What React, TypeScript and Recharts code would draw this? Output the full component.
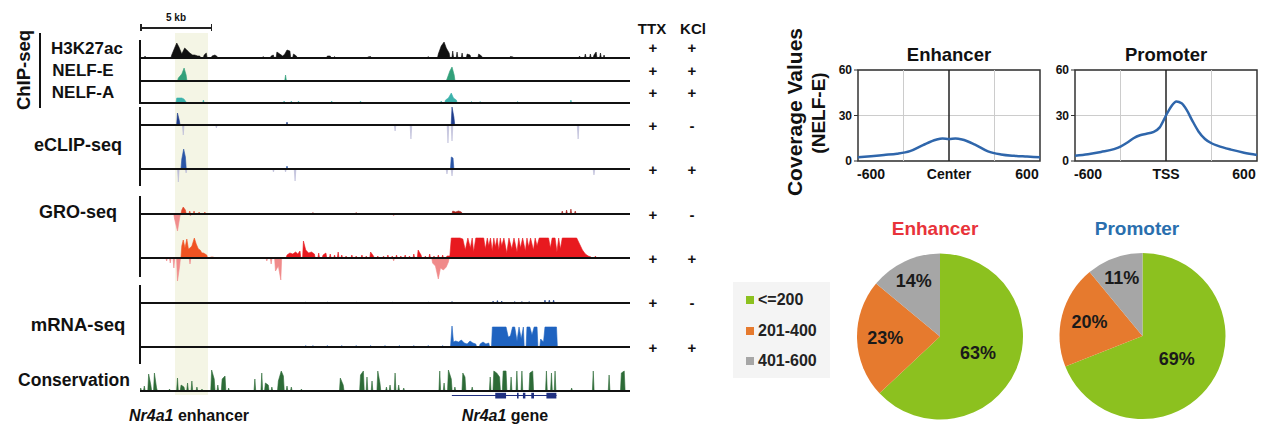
import React from "react";
import {
  AreaChart,
  Area,
  LineChart,
  Line,
  XAxis,
  YAxis,
  CartesianGrid,
  ReferenceLine,
  ReferenceArea,
  PieChart,
  Pie,
  Cell,
} from "recharts";

const FONT = '"Liberation Sans", Arial, sans-serif';

// ---- genome browser (x in kb from left edge of view) ----
const GENOME_KB: [number, number] = [0, 34];
const ENHANCER_KB: [number, number] = [2.43, 4.72];
const SCALE_BAR_KB = 5;

type Pt = [number, number];

const H3K27AC: Pt[] = [
  [0.35, 2], [2.2, 3], [2.4, 10], [2.55, 15], [2.7, 11], [2.9, 4], [3.1, 10], [3.25, 8],
  [3.45, 5], [3.65, 3], [3.8, 3], [4.0, 2], [4.15, 2], [4.45, 3], [4.6, 5], [5.0, 2],
  [5.2, 3], [5.35, 1.5], [6.6, 1], [7.75, 1], [8.55, 1.5], [9.1, 2], [9.25, 3], [9.5, 6],
  [9.7, 4], [9.9, 2], [10.05, 4], [10.2, 8], [10.4, 7], [10.65, 4], [10.85, 2], [13.0, 2],
  [13.2, 2], [13.5, 1.5], [15.8, 1], [16.0, 1.5], [20.0, 1.5], [20.7, 4], [20.9, 12],
  [21.1, 16], [21.25, 10], [21.45, 5], [21.7, 7], [22.0, 6], [22.35, 5], [22.7, 4],
  [22.9, 3], [23.5, 4], [23.7, 2], [25.7, 1.5], [25.9, 1], [27.8, 1], [30.5, 2], [30.9, 4],
  [31.25, 4], [31.5, 3], [31.65, 6], [31.95, 5], [32.2, 3], [33.3, 1],
];
const NELF_E: Pt[] = [
  [2.66, 3], [2.9, 7], [3.06, 13], [3.2, 6], [10.1, 6], [21.3, 2], [21.5, 10], [21.65, 14], [21.8, 6],
];
const NELF_A: Pt[] = [
  [0.35, 1], [1.5, 1], [2.55, 5], [2.7, 5], [2.9, 5], [3.05, 4], [3.2, 1], [4.4, 3], [5.2, 1],
  [6.2, 1], [7.2, 1], [8.8, 1], [10.0, 2], [10.5, 2], [11.0, 2], [11.5, 1], [13.3, 2],
  [15.3, 2], [17.0, 1], [18.4, 1], [19.5, 1], [20.9, 2], [21.2, 3], [21.4, 5], [21.6, 10],
  [21.75, 5], [21.95, 3], [22.3, 1], [23.0, 1.5], [23.6, 1.5], [24.5, 1], [25.3, 1],
  [26.2, 1.5], [27.3, 1], [28.0, 1], [29.9, 3], [31.2, 1], [32.5, 1], [33.5, 1],
];
const ECLIP_TTX_PLUS: Pt[] = [[2.6, 12], [2.72, 5], [10.2, 3], [21.65, 18], [21.78, 8]];
const ECLIP_TTX_MINUS: Pt[] = [
  [3.0, 10], [5.3, 3], [17.7, 6], [18.8, 14], [21.37, 18], [21.65, 16], [30.4, 14],
];
const ECLIP_KCL_PLUS: Pt[] = [[2.9, 10], [3.03, 20], [3.15, 12], [10.2, 3], [21.6, 12], [21.72, 11]];
const ECLIP_KCL_MINUS: Pt[] = [
  [2.66, 13], [3.2, 4], [9.26, 3], [10.1, 3], [10.76, 12], [21.3, 5], [21.65, 7], [31.5, 6],
];
const GRO_TTX_PLUS: Pt[] = [
  [1.0, 1], [2.0, 1], [2.9, 4], [3.0, 7], [3.15, 4], [3.45, 3], [3.75, 3], [4.1, 2], [4.5, 2],
  [5.5, 1], [6.5, 1], [8.0, 1], [9.5, 1], [10.8, 1], [12.0, 1.5], [13.5, 1], [15.0, 1.5],
  [16.5, 1], [18.0, 1], [19.5, 1], [20.5, 1], [21.7, 3], [21.9, 2], [22.1, 3], [22.3, 2],
  [23.5, 1], [25.0, 1], [26.5, 1], [28.0, 1], [29.3, 3], [29.6, 4], [29.9, 5], [30.2, 3],
  [31.5, 1], [33.5, 1],
];
const GRO_TTX_MINUS: Pt[] = [[1.8, 1], [2.4, 5], [2.6, 17], [2.75, 4], [3.5, 2], [17.6, 2]];
const GRO_KCL_PLUS: Pt[] = [
  [2.9, 12], [3.0, 18], [3.12, 10], [3.25, 19], [3.36, 9], [3.47, 10], [3.6, 12], [3.77, 20],
  [3.9, 14], [4.05, 9], [4.17, 8], [4.3, 5], [4.4, 5], [4.63, 3], [4.9, 1], [5.1, 1],
  [10.2, 3], [10.4, 5], [10.6, 4], [10.8, 6], [10.95, 4], [11.1, 7], [11.34, 17], [11.5, 8],
  [11.7, 5], [11.9, 6], [12.1, 4], [12.4, 5], [12.7, 3], [12.9, 5], [13.2, 4], [13.5, 3],
  [13.75, 6], [14.0, 3], [14.3, 2], [14.7, 3], [15.0, 2], [15.4, 3], [15.7, 2], [16.0, 6],
  [16.2, 2], [16.5, 2], [16.9, 2], [17.2, 3], [17.5, 2], [17.8, 3], [18.1, 2], [18.4, 3],
  [18.7, 2], [19.0, 4], [19.3, 8], [19.5, 3], [19.8, 2], [20.1, 4], [20.4, 2], [20.7, 3],
  [21.0, 3], [21.3, 2], [21.5, 2],
  [21.6, 20], [21.8, 20], [22.0, 20], [22.2, 20], [22.4, 19], [22.57, 8], [22.75, 20], [22.92, 10],
  [23.05, 20], [23.15, 6], [23.3, 20], [23.5, 20], [23.7, 20], [23.85, 20], [23.96, 9], [24.1, 20],
  [24.2, 12], [24.32, 20], [24.44, 7], [24.55, 20], [24.65, 11], [24.78, 20], [24.9, 8],
  [25.0, 20], [25.1, 12], [25.25, 20], [25.45, 5], [25.6, 20], [25.8, 9], [25.95, 20],
  [26.16, 6], [26.28, 20], [26.4, 10], [26.55, 20], [26.74, 7], [26.85, 20], [26.97, 11],
  [27.1, 20], [27.3, 8], [27.42, 20], [27.55, 12], [27.7, 20], [27.9, 20], [28.05, 20], [28.2, 20],
  [28.35, 20], [28.47, 10], [28.6, 20], [28.8, 20], [28.93, 6], [29.05, 20], [29.17, 9], [29.3, 20],
  [29.5, 20], [29.7, 20], [29.9, 20], [30.1, 20], [30.3, 20], [30.5, 14], [30.7, 8], [30.9, 4],
  [31.1, 2], [31.3, 1], [31.6, 2],
];
const GRO_KCL_MINUS: Pt[] = [
  [1.85, 3], [2.1, 5], [2.35, 10], [2.6, 23], [2.75, 8], [3.47, 6], [8.8, 3], [9.1, 6],
  [9.4, 13], [9.6, 8], [9.77, 22], [17.6, 3], [20.3, 5], [20.5, 8], [20.7, 21], [20.85, 10],
  [21.05, 12], [21.25, 9], [21.4, 4],
];
const MRNA_TTX: Pt[] = [
  [11.5, 0.8], [13.0, 0.8], [15.0, 0.8], [17.5, 0.8], [20.0, 0.8], [21.65, 1.5], [24.5, 2],
  [24.8, 2.5], [25.1, 2], [26.0, 1.5], [26.5, 1.5], [27.0, 1.5], [28.1, 3], [28.4, 3], [28.7, 3],
];
const MRNA_KCL: Pt[] = [
  [2.9, 1], [6.0, 1], [7.0, 1], [8.0, 1], [11.5, 1.5], [12.0, 1.5], [13.0, 1.5], [14.0, 1.5],
  [15.0, 1.5], [16.0, 1.5], [17.0, 1.5], [18.0, 1.5], [19.0, 1.5], [20.0, 1.5], [21.0, 1.5],
  [21.55, 1], [21.65, 21], [21.75, 5], [21.9, 6], [22.1, 5], [22.3, 7], [22.5, 4], [22.7, 3],
  [22.9, 6], [23.1, 4], [23.3, 3], [23.6, 3], [23.8, 5], [24.0, 3], [24.2, 4],
  [24.45, 20], [24.65, 20], [24.85, 20], [25.05, 20], [25.25, 20], [25.4, 20], [25.55, 10], [25.7, 11],
  [25.85, 20], [26.0, 20], [26.16, 6], [26.3, 20], [26.45, 8], [26.6, 20], [26.85, 20],
  [27.05, 20], [27.2, 12], [27.35, 20], [27.55, 20], [27.8, 8], [28.0, 5], [28.1, 20],
  [28.3, 20], [28.5, 20], [28.7, 20], [28.9, 20],
];
const CONSERVATION: Pt[] = [
  [0.05, 3], [0.3, 5], [0.6, 17], [0.75, 6], [1.0, 18], [1.15, 3], [1.6, 1], [2.05, 2],
  [2.6, 13], [2.85, 6], [3.05, 4], [3.3, 8], [3.6, 10], [3.95, 4], [4.3, 2], [4.97, 21],
  [5.15, 12], [5.4, 6], [5.7, 12], [5.9, 15], [6.15, 3], [7.0, 1], [7.97, 12], [8.45, 18],
  [8.7, 8], [8.9, 6], [9.15, 4], [9.6, 10], [9.8, 20], [9.95, 15], [10.2, 5], [10.5, 4],
  [11.2, 2], [13.9, 13], [14.1, 6], [15.3, 16], [15.5, 20], [15.75, 14], [16.1, 10],
  [16.5, 20], [16.65, 8], [17.1, 4], [17.35, 6], [17.7, 18], [17.95, 6], [18.3, 3],
  [20.8, 20], [21.1, 8], [21.4, 21], [21.6, 12], [21.85, 4], [22.4, 18], [22.55, 14],
  [23.05, 4], [24.3, 14], [24.55, 20], [24.75, 18], [24.95, 14], [25.2, 20], [25.4, 20],
  [25.75, 14], [26.15, 20], [26.5, 20], [27.05, 18], [27.25, 20], [28.2, 20], [28.55, 18],
  [28.8, 20], [29.95, 3], [31.45, 20], [32.55, 16], [33.4, 18], [33.6, 20],
];
const GENE_SPAN: [number, number] = [21.64, 28.9];
const GENE_EXONS: [number, number][] = [
  [24.65, 25.4], [26.16, 26.27], [26.57, 26.74], [27.15, 27.34], [28.2, 28.89],
];
const CONDITIONS: [string, string][] = [
  ["+", "+"], ["+", "+"], ["+", "+"], ["+", "-"], ["+", "+"],
  ["+", "-"], ["+", "+"], ["+", "-"], ["+", "+"],
];

// ---- NELF-E coverage profiles ----
const ENH_BP = [-700, -600, -500, -400, -300, -200, -100, -50, 0, 50, 100, 200, 300, 400, 500, 600, 700];
const ENHANCER_COV = [2.5, 3.2, 4, 4.8, 6.5, 10.5, 14, 14.8, 14.5, 14.8, 14.2, 10.8, 6.3, 4.3, 3.4, 2.9, 2.4];
const PRO_BP = [-700, -600, -500, -400, -350, -300, -250, -200, -150, -100, -50, 0, 40, 80, 120, 160, 200, 250, 300, 350, 400, 500, 600, 700];
const PROMOTER_COV = [3.5, 4.5, 6, 7.8, 9.5, 12, 15, 17, 18, 19, 22, 30, 36, 39.3, 38, 33.5, 27, 19.5, 14.5, 11.7, 10, 7.5, 5.5, 4];
const X_TICKS = [-600, 0, 600];
const Y_TICKS = [0, 30, 60];
const GRID_X = [-350, 350];

// ---- distance bins ----
const BINS = ["<=200", "201-400", "401-600"];
const BIN_COLORS = ["#8cc11f", "#e67a2e", "#a6a6a6"];
const ENHANCER_PCT = [63, 23, 14];
const PROMOTER_PCT = [69, 20, 11];

const KB_PX = 14.4;
const TRACK_LEFT = 140;
const TRACK_W = 490;
const HALF_KB = 0.06;
const JOIN_KB = 0.24;

function toTrack(peaks: Pt[], sign = 1) {
  const s = [...peaks].sort((a, b) => a[0] - b[0]);
  const out: { kb: number; v: number }[] = [];
  s.forEach(([kb, h], i) => {
    const prev = s[i - 1];
    const next = s[i + 1];
    if (!prev || kb - prev[0] > JOIN_KB) out.push({ kb: kb - HALF_KB, v: 0 });
    out.push({ kb, v: sign * h });
    if (!next || next[0] - kb > JOIN_KB) out.push({ kb: kb + HALF_KB, v: 0 });
  });
  return out;
}

type Series = { peaks: Pt[]; color: string; sign?: number };

function Track({
  base,
  up,
  down,
  series,
  children,
}: {
  base: number;
  up: number;
  down: number;
  series: Series[];
  children?: React.ReactNode;
}) {
  return (
    <div style={{ position: "absolute", left: TRACK_LEFT, top: base - up }}>
      <AreaChart width={TRACK_W} height={up + down} margin={{ top: 0, right: 0, bottom: 0, left: 0 }}>
        <XAxis type="number" dataKey="kb" domain={GENOME_KB} hide allowDataOverflow />
        <YAxis type="number" domain={[-down, up]} hide allowDataOverflow />
        {series.map((s, i) => (
          <Area
            key={i}
            data={toTrack(s.peaks, s.sign ?? 1)}
            dataKey="v"
            type="linear"
            baseValue={0}
            stroke={s.color}
            strokeWidth={0.6}
            fill={s.color}
            fillOpacity={1}
            dot={false}
            activeDot={false}
            isAnimationActive={false}
          />
        ))}
        <ReferenceLine y={0} stroke="#111" strokeWidth={2} />
        {children}
      </AreaChart>
    </div>
  );
}

function Txt({
  x,
  y,
  size,
  children,
  color = "#111",
  rotate = false,
}: {
  x: number;
  y: number;
  size: number;
  children: React.ReactNode;
  color?: string;
  rotate?: boolean;
}) {
  return (
    <div
      style={{
        position: "absolute",
        left: x,
        top: y,
        transform: `translate(-50%, -50%)${rotate ? " rotate(-90deg)" : ""}`,
        fontSize: size,
        fontWeight: 700,
        color,
        whiteSpace: "nowrap",
        lineHeight: 1,
      }}
    >
      {children}
    </div>
  );
}

const ROW_Y = [47, 70, 92, 125, 169, 214, 258, 302, 347];
const ENH_SPLIT = 6;

function ProfileChart({
  left,
  title,
  xs,
  ys,
  centerLabel,
}: {
  left: number;
  title: string;
  xs: number[];
  ys: number[];
  centerLabel: string;
}) {
  const data = xs.map((x, i) => ({ x, y: ys[i] }));
  return (
    <>
      <Txt x={left + 38 + 91} y={55} size={18.5}>
        {title}
      </Txt>
      <div style={{ position: "absolute", left, top: 40 }}>
        <LineChart width={230} height={146} data={data} margin={{ top: 30, right: 10, bottom: 0, left: 0 }}>
          <CartesianGrid vertical={false} stroke="#cccccc" />
          {GRID_X.map((g) => (
            <ReferenceLine key={g} x={g} stroke="#cccccc" strokeWidth={1} />
          ))}
          <ReferenceLine x={0} stroke="#222" strokeWidth={1.5} />
          <XAxis
            type="number"
            dataKey="x"
            domain={[-700, 700]}
            ticks={X_TICKS}
            tickFormatter={(v: number) => (v === 0 ? centerLabel : String(v))}
            axisLine={false}
            tickLine={false}
            height={25}
            tick={{ fontSize: 14, fontWeight: 700, fill: "#111", fontFamily: FONT }}
          />
          <YAxis
            type="number"
            domain={[0, 60]}
            ticks={Y_TICKS}
            width={38}
            axisLine={false}
            tickLine={{ stroke: "#333" }}
            tickSize={4}
            tick={{ fontSize: 12, fontWeight: 700, fill: "#111", fontFamily: FONT }}
          />
          <ReferenceArea x1={-700} x2={700} y1={0} y2={60} fill="none" stroke="#333" strokeWidth={1.5} />
          <Line
            dataKey="y"
            type="monotone"
            stroke="#2f66ab"
            strokeWidth={2.5}
            dot={false}
            isAnimationActive={false}
          />
        </LineChart>
      </div>
    </>
  );
}

const LABEL_R = [0.5, 0.66, 0.74];
const RAD = Math.PI / 180;

function pctLabel(p: any) {
  const r = p.outerRadius * LABEL_R[p.index];
  const x = p.cx + r * Math.cos(-p.midAngle * RAD);
  const y = p.cy + r * Math.sin(-p.midAngle * RAD);
  return (
    <text
      x={x}
      y={y}
      textAnchor="middle"
      dominantBaseline="central"
      fontSize={18}
      fontWeight={700}
      fill="#1a1a1a"
      fontFamily={FONT}
    >
      {`${p.value}%`}
    </text>
  );
}

export default function App() {
  const enhData = BINS.map((name, i) => ({ name, value: ENHANCER_PCT[i] }));
  const proData = BINS.map((name, i) => ({ name, value: PROMOTER_PCT[i] }));
  const split = (pts: Pt[]) => [pts.filter((p) => p[0] < ENH_SPLIT), pts.filter((p) => p[0] >= ENH_SPLIT)];
  const [groTtxEnh, groTtxRest] = split(GRO_TTX_PLUS);
  const [groKclEnh, groKclRest] = split(GRO_KCL_PLUS);
  const x0 = TRACK_LEFT + ENHANCER_KB[0] * KB_PX;
  const x1 = TRACK_LEFT + ENHANCER_KB[1] * KB_PX;
  const barW = SCALE_BAR_KB * KB_PX;

  return (
    <div
      style={{
        position: "absolute",
        left: 0,
        top: 0,
        width: 1280,
        height: 440,
        background: "#fff",
        fontFamily: FONT,
        overflow: "hidden",
      }}
    >
      {/* enhancer highlight */}
      <div style={{ position: "absolute", left: x0, top: 33, width: x1 - x0, height: 362, background: "#f4f5e5" }} />

      {/* scale bar */}
      <div style={{ position: "absolute", left: TRACK_LEFT, top: 27, width: barW, height: 1.5, background: "#222" }} />
      <div style={{ position: "absolute", left: TRACK_LEFT, top: 24, width: 1.5, height: 7, background: "#222" }} />
      <div style={{ position: "absolute", left: TRACK_LEFT + barW - 1.5, top: 24, width: 1.5, height: 7, background: "#222" }} />
      <Txt x={TRACK_LEFT + barW / 2} y={18} size={10}>
        5 kb
      </Txt>

      {/* group axis lines */}
      {[
        [40, 104],
        [107, 186],
        [196, 277],
        [285, 364],
      ].map(([a, b]) => (
        <div key={a} style={{ position: "absolute", left: 139, top: a, width: 2, height: b - a, background: "#111" }} />
      ))}
      <div style={{ position: "absolute", left: 39, top: 33, width: 2, height: 75, background: "#111" }} />

      <Track base={58} up={18} down={3} series={[{ peaks: H3K27AC, color: "#111" }]} />
      <Track base={80.5} up={16} down={3} series={[{ peaks: NELF_E, color: "#32a07a" }]} />
      <Track base={102.5} up={12} down={3} series={[{ peaks: NELF_A, color: "#3bb2ab" }]} />
      <Track
        base={125}
        up={19}
        down={20}
        series={[
          { peaks: ECLIP_TTX_MINUS, color: "#bcbcd8", sign: -1 },
          { peaks: ECLIP_TTX_PLUS, color: "#1e3c8c" },
        ]}
      />
      <Track
        base={169}
        up={21}
        down={15}
        series={[
          { peaks: ECLIP_KCL_MINUS, color: "#bcbcd8", sign: -1 },
          { peaks: ECLIP_KCL_PLUS, color: "#2a55a6" },
        ]}
      />
      <Track
        base={214}
        up={10}
        down={19}
        series={[
          { peaks: GRO_TTX_MINUS, color: "#f08c8c", sign: -1 },
          { peaks: groTtxEnh, color: "#e0452a" },
          { peaks: groTtxRest, color: "#a8231c" },
        ]}
      />
      <Track
        base={258}
        up={21}
        down={25}
        series={[
          { peaks: GRO_KCL_MINUS, color: "#f08a8a", sign: -1 },
          { peaks: groKclEnh, color: "#f05322" },
          { peaks: groKclRest, color: "#e8191f" },
        ]}
      />
      <Track base={302.5} up={6} down={3} series={[{ peaks: MRNA_TTX, color: "#1e3f8a" }]} />
      <Track base={347} up={22} down={3} series={[{ peaks: MRNA_KCL, color: "#1f63c0" }]} />
      <Track base={390.5} up={22} down={10} series={[{ peaks: CONSERVATION, color: "#2d6b37" }]}>
        <ReferenceLine
          segment={[
            { x: GENE_SPAN[0], y: -4.5 },
            { x: GENE_SPAN[1], y: -4.5 },
          ]}
          stroke="#1f2f80"
          strokeWidth={1}
        />
        {GENE_EXONS.map(([a, b]) => (
          <ReferenceArea key={a} x1={a} x2={b} y1={-1.8} y2={-7.5} fill="#1f2f80" fillOpacity={1} stroke="none" />
        ))}
      </Track>

      {/* left labels */}
      <Txt x={24} y={70} size={18.5} rotate>
        ChIP-seq
      </Txt>
      <Txt x={87} y={48} size={17}>
        H3K27ac
      </Txt>
      <Txt x={83} y={70} size={17}>
        NELF-E
      </Txt>
      <Txt x={83} y={92} size={17}>
        NELF-A
      </Txt>
      <Txt x={78} y={145} size={18}>
        eCLIP-seq
      </Txt>
      <Txt x={78} y={212} size={18}>
        GRO-seq
      </Txt>
      <Txt x={78} y={325} size={18.5}>
        mRNA-seq
      </Txt>
      <Txt x={74} y={381} size={17.5}>
        Conservation
      </Txt>
      <Txt x={189} y={416} size={16}>
        <i>Nr4a1</i> enhancer
      </Txt>
      <Txt x={505} y={416} size={16}>
        <i>Nr4a1</i> gene
      </Txt>

      {/* condition columns */}
      <Txt x={652} y={28} size={15}>
        TTX
      </Txt>
      <Txt x={693} y={28} size={15}>
        KCl
      </Txt>
      {CONDITIONS.map(([a, b], i) => (
        <React.Fragment key={i}>
          <Txt x={653} y={ROW_Y[i]} size={15}>
            {a}
          </Txt>
          <Txt x={692} y={ROW_Y[i]} size={15}>
            {b}
          </Txt>
        </React.Fragment>
      ))}

      {/* coverage profiles */}
      <Txt x={794} y={112} size={21} rotate>
        Coverage Values
      </Txt>
      <Txt x={818} y={113} size={19} rotate>
        (NELF-E)
      </Txt>
      <ProfileChart left={820} title="Enhancer" xs={ENH_BP} ys={ENHANCER_COV} centerLabel="Center" />
      <ProfileChart left={1037} title="Promoter" xs={PRO_BP} ys={PROMOTER_COV} centerLabel="TSS" />

      {/* pies */}
      <Txt x={935} y={228} size={19} color="#e8333a">
        Enhancer
      </Txt>
      <Txt x={1137} y={228} size={19} color="#2a6fae">
        Promoter
      </Txt>
      <div style={{ position: "absolute", left: 840, top: 240 }}>
        <PieChart width={440} height={200}>
          <Pie
            data={enhData}
            dataKey="value"
            nameKey="name"
            cx={95}
            cy={91.5}
            outerRadius={83}
            startAngle={90}
            endAngle={-270}
            stroke="none"
            label={pctLabel}
            labelLine={false}
            isAnimationActive={false}
          >
            {enhData.map((d, i) => (
              <Cell key={d.name} fill={BIN_COLORS[i]} />
            ))}
          </Pie>
          <Pie
            data={proData}
            dataKey="value"
            nameKey="name"
            cx={297.5}
            cy={91}
            outerRadius={83}
            startAngle={90}
            endAngle={-270}
            stroke="none"
            label={pctLabel}
            labelLine={false}
            isAnimationActive={false}
          >
            {proData.map((d, i) => (
              <Cell key={d.name} fill={BIN_COLORS[i]} />
            ))}
          </Pie>
        </PieChart>
      </div>

      {/* legend */}
      <div style={{ position: "absolute", left: 733, top: 282, width: 97, height: 96, background: "#f4f4f4" }} />
      {BINS.map((b, i) => (
        <React.Fragment key={b}>
          <div
            style={{
              position: "absolute",
              left: 746,
              top: 300 + i * 30.5 - 4,
              width: 8,
              height: 8,
              background: BIN_COLORS[i],
            }}
          />
          <div
            style={{
              position: "absolute",
              left: 758,
              top: 300 + i * 30.5,
              transform: "translateY(-50%)",
              fontSize: 16,
              fontWeight: 700,
              color: "#222",
              lineHeight: 1,
              whiteSpace: "nowrap",
            }}
          >
            {b}
          </div>
        </React.Fragment>
      ))}
    </div>
  );
}
